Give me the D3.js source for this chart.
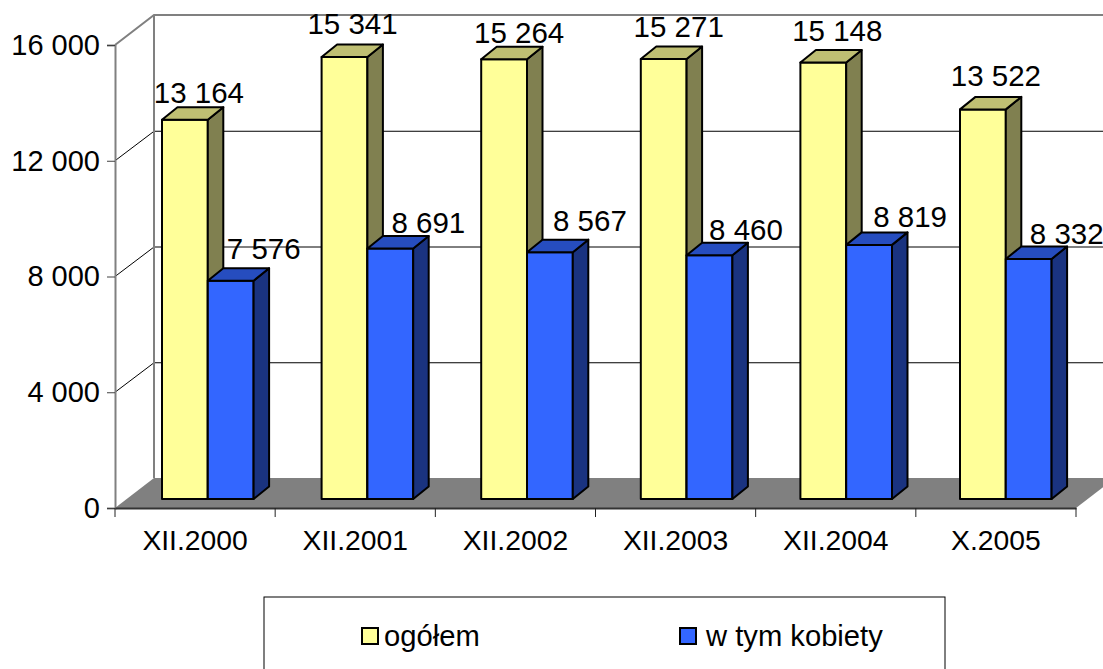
<!DOCTYPE html>
<html>
  <head>
    <meta charset="utf-8" />
    <title>Bar Chart</title>
    <script src="https://d3js.org/d3.v7.min.js"></script>
    <style>
        body { margin: 0; overflow: hidden; background: #fff; }
        text { font-family: "Liberation Sans", Arial, sans-serif; font-size: 29.5px; fill: #000; }
    </style>
  </head>
  <body>
    <svg id="barChart"></svg>
    <script>
        var categories = ["XII.2000", "XII.2001", "XII.2002", "XII.2003", "XII.2004", "X.2005"];
        var ogolem = [13164, 15341, 15264, 15271, 15148, 13522];
        var kobiety = [7576, 8691, 8567, 8460, 8819, 8332];
        var yTicks = [0, 4000, 8000, 12000, 16000];
        var seriesNames = ["ogółem", "w tym kobiety"];

        // hand nudges for the value labels, they sit unevenly in the original
        var ogolemShift = [[14, -17], [8, -23], [15, -16], [15, -22], [14, -22], [13, -23]];
        var kobietyShift = [[33, -22], [38, -16], [40, -21], [36.5, -15], [41, -18], [38, -15]];

        var width = 1103, height = 669;
        var svg = d3.select("#barChart").attr("width", width).attr("height", height)
            .style("display", "block");

        var x = d3.scaleBand().domain(categories).range([115, 1076]);
        var y = d3.scaleLinear().domain([0, 16000]).range([508, 45]);
        // bars stand further back than the front axis, so their scales are a bit tighter
        var xBar = d3.scaleBand().domain(categories).range([162, 1119.6]);
        var yBar = d3.scaleLinear().domain([0, 16000]).range([499, 38]);
        var fmt = d3.formatLocale({decimal: ",", thousands: " ", grouping: [3], currency: ["", ""]}).format(",d");

        var wall = {dx: 39, dy: -30};   // depth of the chart box
        var barDepth = {dx: 15.5, dy: -12.5};
        var barW = 45.8;

        var styles = [
            {front: "#ffff99", side: "#808050", top: "#bfbf73"},
            {front: "#3366ff", side: "#1a3380", top: "#264dbf"}
        ];

        var GREY = "#808080";
        var xEnd = x.range()[1];

        // floor
        svg.append("polygon")
            .attr("points", [
                [x.range()[0], y(0)],
                [x.range()[0] + wall.dx, y(0) + wall.dy],
                [xEnd + wall.dx, y(0) + wall.dy],
                [xEnd, y(0)]
            ].join(" "))
            .attr("fill", GREY);

        // gridlines on the back wall and the side wall
        var grid = svg.append("g");
        yTicks.slice(1, -1).forEach(function(t) {
            grid.append("path")
                .attr("d", "M" + x.range()[0] + "," + y(t) +
                    "L" + (x.range()[0] + wall.dx) + "," + (y(t) + wall.dy + 0.5) +
                    "H" + (xEnd + wall.dx))
                .attr("fill", "none").attr("stroke", "#000").attr("stroke-width", 1);
        });

        // walls outline
        svg.append("path")
            .attr("d", "M" + x.range()[0] + "," + y(16000) +
                "L" + (x.range()[0] + wall.dx) + "," + (y(16000) + wall.dy) +
                "H" + (xEnd + wall.dx) +
                "M" + (x.range()[0] + wall.dx) + "," + (y(16000) + wall.dy) +
                "V" + (y(0) + wall.dy))
            .attr("fill", "none").attr("stroke", GREY).attr("stroke-width", 2);

        // y axis
        var yAxis = svg.append("g")
            .attr("transform", "translate(" + x.range()[0] + ",0)")
            .call(d3.axisLeft(y).tickValues(yTicks).tickFormat(fmt).tickSize(8).tickPadding(7));
        yAxis.select(".domain").attr("stroke", GREY).attr("stroke-width", 2);
        yAxis.selectAll(".tick line").attr("stroke", "#404040");
        yAxis.selectAll("text").style("font-size", "29px").style("font-family", "Liberation Sans");

        // x axis, ticks go between the categories
        var xAxis = svg.append("g")
            .attr("transform", "translate(0," + y(0) + ")")
            .call(d3.axisBottom(x).tickSizeOuter(0).tickSizeInner(0).tickPadding(22));
        xAxis.select(".domain").attr("stroke", "#333").attr("stroke-width", 2);
        xAxis.selectAll("text").style("font-size", "28.3px").style("font-family", "Liberation Sans");
        xAxis.selectAll(".edge").data(categories.concat([null])).enter().append("line")
            .attr("class", "edge")
            .attr("x1", function(d) { return d === null ? xEnd : x(d); })
            .attr("x2", function(d) { return d === null ? xEnd : x(d); })
            .attr("y1", 0).attr("y2", 9)
            .attr("stroke", "#222");

        // bars
        function drawBar(g, x0, v, s) {
            var y0 = yBar(0), yt = yBar(v);
            var x1 = x0 + barW;
            g.append("rect").attr("x", x0).attr("y", yt).attr("width", barW).attr("height", y0 - yt)
                .attr("fill", s.front);
            g.append("polygon")
                .attr("points", [[x1, yt], [x1 + barDepth.dx, yt + barDepth.dy], [x1 + barDepth.dx, y0 + barDepth.dy], [x1, y0]].join(" "))
                .attr("fill", s.side);
            g.append("polygon")
                .attr("points", [[x0, yt], [x0 + barDepth.dx, yt + barDepth.dy], [x1 + barDepth.dx, yt + barDepth.dy], [x1, yt]].join(" "))
                .attr("fill", s.top);
            g.selectAll("rect,polygon")
                .attr("stroke", "#000").attr("stroke-width", 2).attr("stroke-linejoin", "round");
        }

        var groups = svg.append("g").selectAll("g").data(categories).enter().append("g");
        groups.each(function(c, i) {
            var g = d3.select(this);
            drawBar(g, xBar(c), ogolem[i], styles[0]);
            drawBar(g, xBar(c) + barW, kobiety[i], styles[1]);
        });

        // value labels
        groups.each(function(c, i) {
            var g = d3.select(this);
            g.append("text")
                .attr("x", xBar(c) + barW / 2 + ogolemShift[i][0])
                .attr("y", yBar(ogolem[i]) + ogolemShift[i][1])
                .attr("text-anchor", "middle").text(fmt(ogolem[i]));
            g.append("text")
                .attr("x", xBar(c) + barW * 1.5 + kobietyShift[i][0])
                .attr("y", yBar(kobiety[i]) + kobietyShift[i][1])
                .attr("text-anchor", "middle").text(fmt(kobiety[i]));
        });

        // legend, runs off the bottom of the picture like the original
        var legend = svg.append("g");
        legend.append("rect").attr("x", 264).attr("y", 597).attr("width", 681).attr("height", 90)
            .attr("fill", "#fff").attr("stroke", "#000").attr("stroke-width", 1);
        var legendX = [362, 680];
        var legendTextX = [384, 706];
        seriesNames.forEach(function(name, i) {
            legend.append("rect").attr("x", legendX[i]).attr("y", 628).attr("width", 16).attr("height", 16)
                .attr("fill", styles[i].front).attr("stroke", "#000").attr("stroke-width", 2);
            legend.append("text").attr("x", legendTextX[i]).attr("y", 646)
                .style("font-size", "29.2px").text(name);
        });
    </script>
  </body>
</html>
